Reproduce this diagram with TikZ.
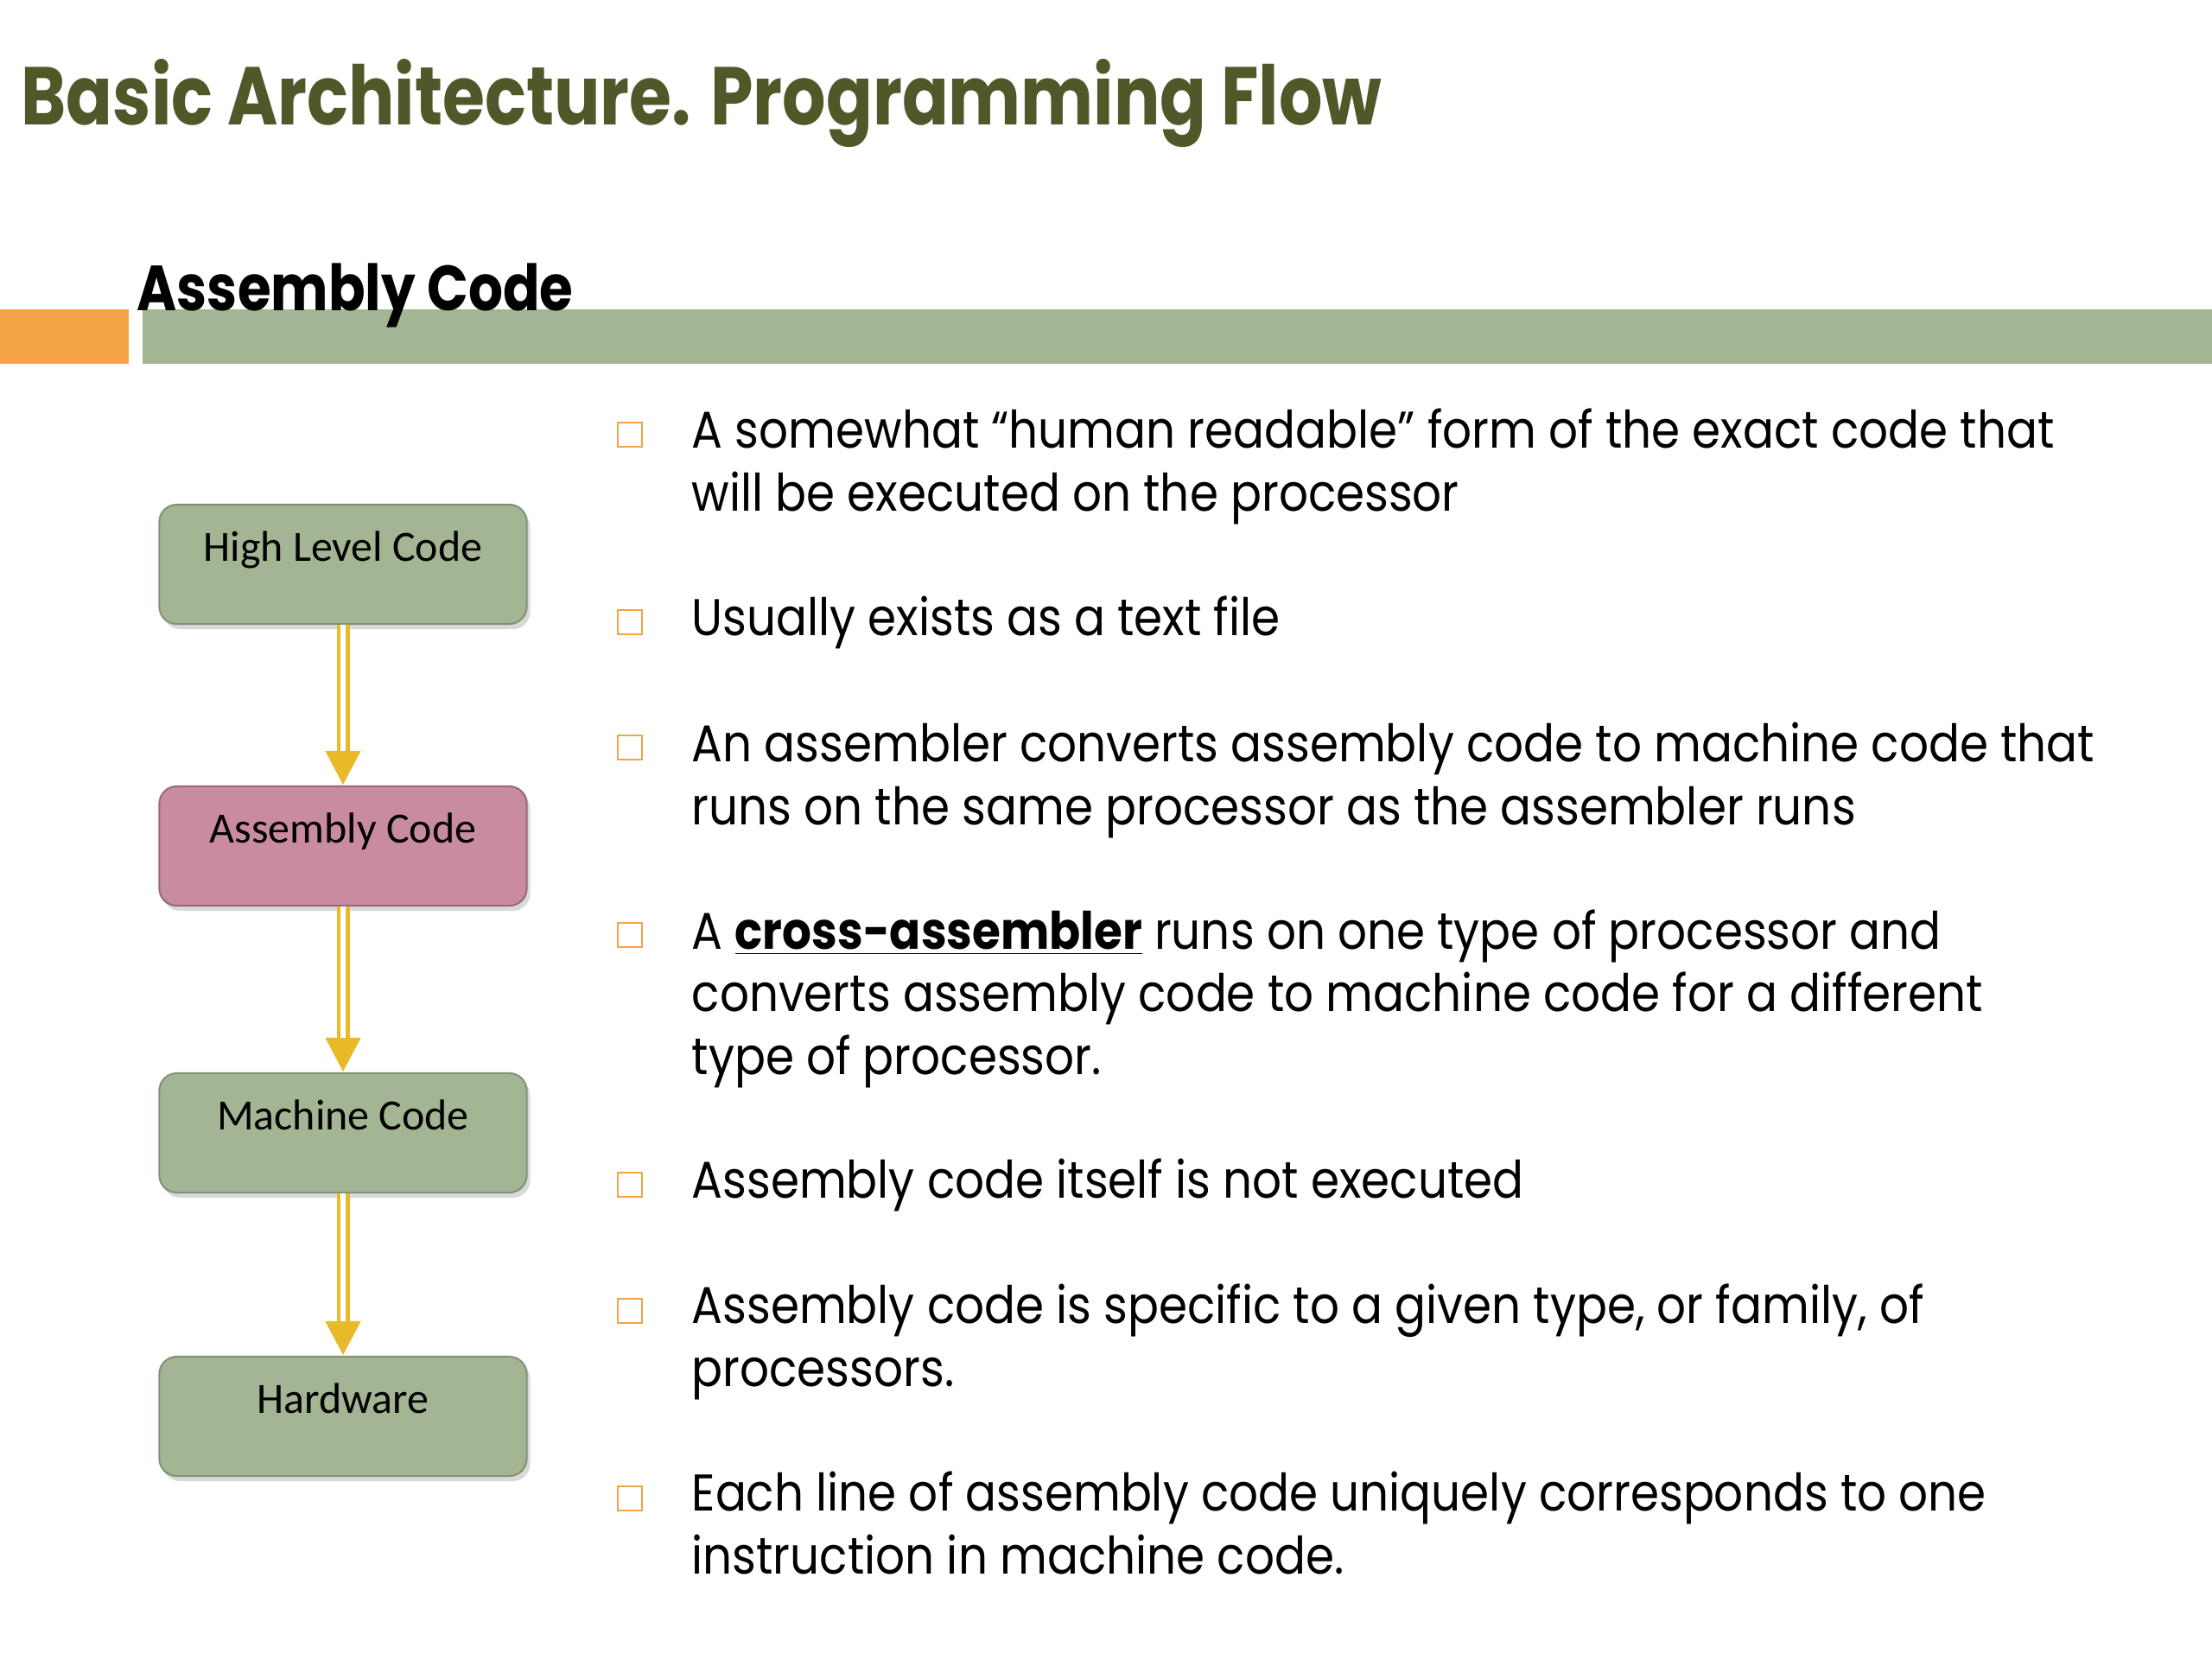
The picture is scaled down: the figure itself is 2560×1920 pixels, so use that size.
\documentclass[tikz,border=0pt]{standalone}
\usepackage{fontspec}
\setmainfont{Poppins}[FakeStretch=0.89]
\newfontfamily\titlefont{Poppins}[FakeStretch=0.835]
\newfontfamily\headfont{Poppins}[FakeStretch=0.85]
\newfontfamily\boxfont{Carlito}
\usetikzlibrary{arrows.meta,shadows}

\definecolor{sagegreen}{RGB}{163,181,146}
\definecolor{barorange}{RGB}{244,164,70}
\definecolor{olivetitle}{RGB}{79,88,40}
\definecolor{asmpink}{RGB}{201,139,160}
\definecolor{arrowgold}{RGB}{232,185,40}

\tikzset{
  titletext/.style={anchor=base west, text=olivetitle, font=\titlefont\bfseries\fontsize{27}{32}\selectfont},
  headtext/.style={anchor=base west, font=\headfont\bfseries\fontsize{21}{25}\selectfont},
  flowbox/.style={draw=sagegreen!80!black, line width=0.02cm, fill=sagegreen, rounded corners=0.2cm,
    minimum width=4.25cm, minimum height=1.38cm, text height=0.2cm, text depth=0.28cm,
    font=\boxfont\fontsize{14.2}{17}\selectfont,
    drop shadow={shadow xshift=0.04cm, shadow yshift=-0.06cm, opacity=0.3}},
  asmbox/.style={draw=asmpink!75!black, fill=asmpink},
  flowarrow/.style={draw=arrowgold, line width=0.15cm, -{Triangle[length=0.4cm, width=0.38cm]},
    postaction={draw=white, line width=0.06cm, -, shorten >=0.4cm}},
  bulletbox/.style={draw=barorange, line width=0.02cm, minimum size=0.28cm},
  % base anchor of a wrapped node sits on its last line
  bullettext/.style={anchor=base west, align=left, font=\fontsize{17}{20.6}\selectfont}
}

\begin{document}
\begin{tikzpicture}[x=0.01cm, y=0.01cm]
	\tikzstyle{every node}+=[inner sep=0pt]
	\useasboundingbox (0,0) rectangle (2560,-1920);
	% title and section bar
	\node[titletext] (title) at (24,-144) {Basic Architecture. Programming Flow};
	\fill[barorange] (0,-358) rectangle (149,-421);
	\fill[sagegreen] (165,-358) rectangle (2560,-421);
	\node[headtext] (head) at (158,-359) {Assembly Code};
	% flow of code
	\node[flowbox] (hlc) at (397,-653) {High Level Code};
	\node[flowbox, asmbox] (asm) at (397,-979) {Assembly Code};
	\node[flowbox] (mc) at (397,-1311) {Machine Code};
	\node[flowbox] (hw) at (397,-1639) {Hardware};
	\draw[flowarrow] (hlc) -- (asm);
	\draw[flowarrow] (asm) -- (mc);
	\draw[flowarrow] (mc) -- (hw);
	% bullets
	\node[bulletbox] (m1) at (729,-503) {};
	\node[bullettext] (b1) at (800,-591) {A somewhat “human readable” form of the exact code that\\will be executed on the processor};
	\node[bulletbox] (m2) at (729,-720) {};
	\node[bullettext] (b2) at (800,-735) {Usually exists as a text file};
	\node[bulletbox] (m3) at (729,-865) {};
	\node[bullettext] (b3) at (800,-954) {An assembler converts assembly code to machine code that\\runs on the same processor as the assembler runs};
	\node[bulletbox] (m4) at (729,-1082) {};
	\node[bullettext] (b4) at (800,-1243) {A \underline{\textbf{cross-assembler}} runs on one type of processor and\\converts assembly code to machine code for a different\\type of processor.};
	\node[bulletbox] (m5) at (729,-1371) {};
	\node[bullettext] (b5) at (800,-1386) {Assembly code itself is not executed};
	\node[bulletbox] (m6) at (729,-1517) {};
	\node[bullettext] (b6) at (800,-1604) {Assembly code is specific to a given type, or family, of\\processors.};
	\node[bulletbox] (m7) at (729,-1734) {};
	\node[bullettext] (b7) at (800,-1821) {Each line of assembly code uniquely corresponds to one\\instruction in machine code.};
\end{tikzpicture}
\end{document}
